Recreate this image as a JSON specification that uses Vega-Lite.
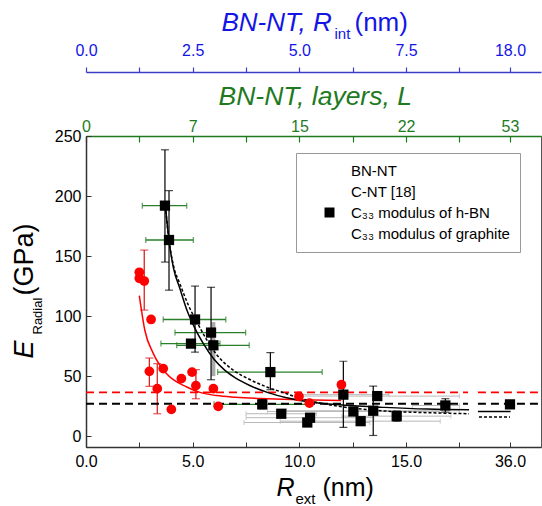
{
 "$schema": "https://vega.github.io/schema/vega-lite/v6.json",
 "width": 455, "height": 311,
 "autosize": "none",
 "padding": {"left": 86, "top": 136, "right": 1, "bottom": 59},
 "background": "white",
 "config": {
   "font": "Liberation Sans",
   "view": {"stroke": "#555", "strokeWidth": 1},
   "axis": {"grid": false, "labelFont": "Liberation Sans", "titleFont": "Liberation Sans", "titleFontWeight": "normal", "labelFlush": false, "labelOverlap": false},
   "legend": {"labelFont": "Liberation Sans", "labelFontSize": 15}
 },
 "datasets": {
   "sq": [
     {"R":3.70,"E":192,"Elo":145,"Ehi":238.5,"Rlo":2.64,"Rhi":4.72},
     {"R":3.89,"E":163.4,"Elo":121.6,"Ehi":204.5,"Rlo":2.80,"Rhi":5.03},
     {"R":5.11,"E":97.2,"Elo":70,"Ehi":125,"Rlo":3.62,"Rhi":6.55},
     {"R":5.86,"E":86.3,"Elo":47,"Ehi":124,"Rlo":4.17,"Rhi":7.48},
     {"R":4.92,"E":77.1,"Rlo":3.51,"Rhi":6.28},
     {"R":5.97,"E":75.7,"Rlo":4.25,"Rhi":7.65,"bandLo":50,"bandHi":95},
     {"R":8.64,"E":53.4,"Elo":38.7,"Ehi":69.6,"Rlo":6.17,"Rhi":11.07},
     {"R":8.26,"E":26.5,"Elo":22.8,"Ehi":30.6,"Rlo":6.0,"Rhi":10.5},
     {"R":9.15,"E":18.7,"gRlo":7.5,"gRhi":10.8},
     {"R":10.37,"E":11.4,"gRlo":7.4,"gRhi":13.3},
     {"R":10.5,"E":15.4,"gRlo":7.5,"gRhi":13.5},
     {"R":12.06,"E":34.6,"Elo":7.3,"Ehi":62.4,"gRlo":9.9,"gRhi":14.2},
     {"R":12.53,"E":20.6,"gRlo":8.5,"gRhi":16.55},
     {"R":12.87,"E":12.5,"gRlo":9.1,"gRhi":16.6},
     {"R":13.46,"E":21.2,"Elo":0.6,"Ehi":41.7,"gRlo":9.4,"gRhi":17.5},
     {"R":13.65,"E":33.4,"gRlo":9.9,"gRhi":17.5},
     {"R":14.56,"E":16.7,"Elo":12.5,"Ehi":21,"gRlo":12.0,"gRhi":17.1},
     {"R":16.84,"E":25.6,"Elo":20,"Ehi":31.2,"gRlo":15.3,"gRhi":17.5},
     {"R":36,"E":26.5}
   ],
   "cnt": [
     {"R":2.50,"E":136.5},
     {"R":2.50,"E":131.5},
     {"R":2.73,"E":129.2,"Elo":105,"Ehi":155},
     {"R":3.05,"E":97.2},
     {"R":2.97,"E":54,"Elo":41.5,"Ehi":65.1},
     {"R":3.62,"E":56.3},
     {"R":3.34,"E":39.6,"Elo":18.7,"Ehi":60.4},
     {"R":4.0,"E":22.3},
     {"R":4.47,"E":47.9},
     {"R":4.97,"E":53.4},
     {"R":5.15,"E":42.1,"Elo":31.2,"Ehi":55.4},
     {"R":5.97,"E":39.6},
     {"R":6.2,"E":24.8},
     {"R":9.98,"E":33.1},
     {"R":10.47,"E":27.5},
     {"R":11.97,"E":42.9}
   ],
   "graphite": [
     {"R":0,"E":36.5,"seg":"a"},{"R":17.9,"E":36.5,"seg":"a"},
     {"R":34.5,"E":36.5,"seg":"b"},{"R":37.45,"E":36.5,"seg":"b"}
   ],
   "hbn": [
     {"R":0,"E":27,"seg":"a"},{"R":17.9,"E":27,"seg":"a"},
     {"R":34.5,"E":27,"seg":"b"},{"R":37.45,"E":27,"seg":"b"}
   ],
   "fitC": [
     {"R":2.5,"E":117},{"R":2.76,"E":88},{"R":3.15,"E":69},{"R":3.78,"E":52},
     {"R":4.72,"E":41},{"R":5.34,"E":36.5},{"R":6.12,"E":33.8},{"R":7.0,"E":32.4},
     {"R":8.47,"E":31.2},{"R":10.03,"E":30.4},{"R":11.96,"E":29.8}
   ],
   "fitBN": [
     {"R":3.72,"E":192,"seg":"a"},{"R":3.89,"E":163,"seg":"a"},{"R":4.1,"E":140,"seg":"a"},
     {"R":4.4,"E":123,"seg":"a"},{"R":4.75,"E":104,"seg":"a"},{"R":5.1,"E":90,"seg":"a"},
     {"R":5.5,"E":77,"seg":"a"},{"R":6.0,"E":64,"seg":"a"},{"R":6.5,"E":55,"seg":"a"},
     {"R":7.0,"E":48.5,"seg":"a"},{"R":7.7,"E":42,"seg":"a"},{"R":8.5,"E":36.5,"seg":"a"},
     {"R":9.4,"E":32,"seg":"a"},{"R":10.5,"E":28.5,"seg":"a"},{"R":12,"E":26,"seg":"a"},
     {"R":14,"E":24,"seg":"a"},{"R":16,"E":22.6,"seg":"a"},{"R":17.95,"E":22,"seg":"a"},
     {"R":34.5,"E":20.6,"seg":"b"},{"R":36.03,"E":20.6,"seg":"b"}
   ],
   "fitBN2": [
     {"R":3.72,"E":192,"seg":"a"},{"R":3.89,"E":163,"seg":"a"},{"R":4.1,"E":142,"seg":"a"},
     {"R":4.4,"E":127,"seg":"a"},{"R":4.8,"E":109,"seg":"a"},{"R":5.2,"E":95,"seg":"a"},
     {"R":5.6,"E":82,"seg":"a"},{"R":6.12,"E":68,"seg":"a"},{"R":6.9,"E":55,"seg":"a"},
     {"R":7.7,"E":47,"seg":"a"},{"R":8.47,"E":41,"seg":"a"},{"R":9.3,"E":36,"seg":"a"},
     {"R":10.03,"E":31.5,"seg":"a"},{"R":11,"E":27.5,"seg":"a"},{"R":12,"E":24.5,"seg":"a"},
     {"R":13,"E":22.5,"seg":"a"},{"R":14,"E":21,"seg":"a"},{"R":16,"E":19.6,"seg":"a"},
     {"R":17.95,"E":18.7,"seg":"a"},
     {"R":34.55,"E":15.9,"seg":"b"},{"R":36.0,"E":15.9,"seg":"b"}
   ],
   "one": [{"R": 0}]
 },
 "resolve": {"scale": {"x": "independent"}, "axis": {"x": "independent"}},
 "layer": [
    {
     "data": {"name": "sq"},
     "mark": {"type": "rule", "color": "#b8b8b8", "strokeWidth": 1},
     "encoding": {
       "x": {"field": "gRlo", "type": "quantitative", "axis": null,
             "scale": {"domain": [0, 18, 34.41, 37.45], "range": [0, 384.1, 390, 455], "nice": false, "zero": false}},
       "x2": {"field": "gRhi"},
       "y": {"field": "E", "type": "quantitative",
             "scale": {"domain": [-9, 250], "nice": false, "zero": false},
             "axis": {"values": [0,25,50,75,100,125,150,175,200,225,250],
                      "labelExpr": "datum.value % 50 == 0 ? format(datum.value, 'd') : ''",
                      "tickSize": -5, "labelPadding": 10, "labelFontSize": 16, "labelColor": "black",
                      "domainColor": "#333", "domainWidth": 1.5, "tickColor": "#333",
                      "title": "E", "titleX": -54, "titleY": 222, "titleAngle": 270, "titleAlign": "left",
                      "titleBaseline": "alphabetic", "titleFontSize": 27, "titleFontStyle": "italic", "titleColor": "black"}}
     }
    },
    {
     "data": {"name": "sq"},
     "transform": [{"fold": ["gRlo", "gRhi"], "as": ["k", "v"]}],
     "mark": {"type": "tick", "orient": "vertical", "color": "#b8b8b8", "size": 5, "thickness": 1},
     "encoding": {
       "x": {"field": "v", "type": "quantitative", "axis": null,
             "scale": {"domain": [0, 18, 34.41, 37.45], "range": [0, 384.1, 390, 455], "nice": false, "zero": false}},
       "y": {"field": "E", "type": "quantitative", "scale": {"domain": [-9, 250], "nice": false, "zero": false}}
     }
    },
    {
     "data": {"name": "sq"},
     "mark": {"type": "rule", "color": "#aaaaaa", "strokeWidth": 4},
     "encoding": {
       "x": {"field": "R", "type": "quantitative", "axis": null,
             "scale": {"domain": [0, 18, 34.41, 37.45], "range": [0, 384.1, 390, 455], "nice": false, "zero": false}},
       "y": {"field": "bandLo", "type": "quantitative", "scale": {"domain": [-9, 250], "nice": false, "zero": false}},
       "y2": {"field": "bandHi"}
     }
    },
    {
     "data": {"name": "sq"},
     "mark": {"type": "rule", "color": "#2a7f2a", "strokeWidth": 1.3},
     "encoding": {
       "x": {"field": "Rlo", "type": "quantitative", "axis": null,
             "scale": {"domain": [0, 18, 34.41, 37.45], "range": [0, 384.1, 390, 455], "nice": false, "zero": false}},
       "x2": {"field": "Rhi"},
       "y": {"field": "E", "type": "quantitative", "scale": {"domain": [-9, 250], "nice": false, "zero": false}}
     }
    },
    {
     "data": {"name": "sq"},
     "transform": [{"fold": ["Rlo", "Rhi"], "as": ["k", "v"]}],
     "mark": {"type": "tick", "orient": "vertical", "color": "#2a7f2a", "size": 6, "thickness": 1.3},
     "encoding": {
       "x": {"field": "v", "type": "quantitative", "axis": null,
             "scale": {"domain": [0, 18, 34.41, 37.45], "range": [0, 384.1, 390, 455], "nice": false, "zero": false}},
       "y": {"field": "E", "type": "quantitative", "scale": {"domain": [-9, 250], "nice": false, "zero": false}}
     }
    },
    {
     "data": {"name": "sq"},
     "mark": {"type": "rule", "color": "black", "strokeWidth": 1.2},
     "encoding": {
       "x": {"field": "R", "type": "quantitative", "axis": null,
             "scale": {"domain": [0, 18, 34.41, 37.45], "range": [0, 384.1, 390, 455], "nice": false, "zero": false}},
       "y": {"field": "Elo", "type": "quantitative", "scale": {"domain": [-9, 250], "nice": false, "zero": false}},
       "y2": {"field": "Ehi"}
     }
    },
    {
     "data": {"name": "sq"},
     "transform": [{"fold": ["Elo", "Ehi"], "as": ["k", "v"]}],
     "mark": {"type": "tick", "orient": "horizontal", "color": "black", "size": 8, "thickness": 1.2},
     "encoding": {
       "x": {"field": "R", "type": "quantitative", "axis": null,
             "scale": {"domain": [0, 18, 34.41, 37.45], "range": [0, 384.1, 390, 455], "nice": false, "zero": false}},
       "y": {"field": "v", "type": "quantitative", "scale": {"domain": [-9, 250], "nice": false, "zero": false}}
     }
    },
    {
     "data": {"name": "cnt"},
     "mark": {"type": "rule", "color": "#dd2222", "strokeWidth": 1.3},
     "encoding": {
       "x": {"field": "R", "type": "quantitative", "axis": null,
             "scale": {"domain": [0, 18, 34.41, 37.45], "range": [0, 384.1, 390, 455], "nice": false, "zero": false}},
       "y": {"field": "Elo", "type": "quantitative", "scale": {"domain": [-9, 250], "nice": false, "zero": false}},
       "y2": {"field": "Ehi"}
     }
    },
    {
     "data": {"name": "cnt"},
     "transform": [{"fold": ["Elo", "Ehi"], "as": ["k", "v"]}],
     "mark": {"type": "tick", "orient": "horizontal", "color": "#dd2222", "size": 8, "thickness": 1.3},
     "encoding": {
       "x": {"field": "R", "type": "quantitative", "axis": null,
             "scale": {"domain": [0, 18, 34.41, 37.45], "range": [0, 384.1, 390, 455], "nice": false, "zero": false}},
       "y": {"field": "v", "type": "quantitative", "scale": {"domain": [-9, 250], "nice": false, "zero": false}}
     }
    },
    {
     "data": {"name": "graphite"},
     "mark": {"type": "line", "color": "#ff0000", "strokeWidth": 1.8, "strokeDash": [8, 5]},
     "encoding": {
       "x": {"field": "R", "type": "quantitative", "axis": null,
             "scale": {"domain": [0, 18, 34.41, 37.45], "range": [0, 384.1, 390, 455], "nice": false, "zero": false}},
       "y": {"field": "E", "type": "quantitative", "scale": {"domain": [-9, 250], "nice": false, "zero": false}},
       "detail": {"field": "seg"}
     }
    },
    {
     "data": {"name": "hbn"},
     "mark": {"type": "line", "color": "black", "strokeWidth": 1.8, "strokeDash": [8, 5]},
     "encoding": {
       "x": {"field": "R", "type": "quantitative", "axis": null,
             "scale": {"domain": [0, 18, 34.41, 37.45], "range": [0, 384.1, 390, 455], "nice": false, "zero": false}},
       "y": {"field": "E", "type": "quantitative", "scale": {"domain": [-9, 250], "nice": false, "zero": false}},
       "detail": {"field": "seg"}
     }
    },
    {
     "data": {"name": "fitC"},
     "mark": {"type": "line", "color": "#ff0000", "strokeWidth": 1.5, "interpolate": "monotone"},
     "encoding": {
       "x": {"field": "R", "type": "quantitative", "axis": null,
             "scale": {"domain": [0, 18, 34.41, 37.45], "range": [0, 384.1, 390, 455], "nice": false, "zero": false}},
       "y": {"field": "E", "type": "quantitative", "scale": {"domain": [-9, 250], "nice": false, "zero": false}}
     }
    },
    {
     "data": {"name": "fitBN"},
     "mark": {"type": "line", "color": "black", "strokeWidth": 1.5, "interpolate": "monotone"},
     "encoding": {
       "x": {"field": "R", "type": "quantitative", "axis": null,
             "scale": {"domain": [0, 18, 34.41, 37.45], "range": [0, 384.1, 390, 455], "nice": false, "zero": false}},
       "y": {"field": "E", "type": "quantitative", "scale": {"domain": [-9, 250], "nice": false, "zero": false}},
       "detail": {"field": "seg"}
     }
    },
    {
     "data": {"name": "fitBN2"},
     "mark": {"type": "line", "color": "black", "strokeWidth": 1.5, "strokeDash": [3, 2], "interpolate": "monotone"},
     "encoding": {
       "x": {"field": "R", "type": "quantitative", "axis": null,
             "scale": {"domain": [0, 18, 34.41, 37.45], "range": [0, 384.1, 390, 455], "nice": false, "zero": false}},
       "y": {"field": "E", "type": "quantitative", "scale": {"domain": [-9, 250], "nice": false, "zero": false}},
       "detail": {"field": "seg"}
     }
    },
    {
     "data": {"name": "cnt"},
     "mark": {"type": "circle", "color": "#ff0000", "size": 95, "opacity": 1},
     "encoding": {
       "x": {"field": "R", "type": "quantitative", "axis": null,
             "scale": {"domain": [0, 18, 34.41, 37.45], "range": [0, 384.1, 390, 455], "nice": false, "zero": false}},
       "y": {"field": "E", "type": "quantitative", "scale": {"domain": [-9, 250], "nice": false, "zero": false}}
     }
    },
    {
     "data": {"name": "sq"},
     "mark": {"type": "square", "color": "black", "size": 105, "opacity": 1},
     "encoding": {
       "x": {"field": "R", "type": "quantitative", "axis": null,
             "scale": {"domain": [0, 18, 34.41, 37.45], "range": [0, 384.1, 390, 455], "nice": false, "zero": false}},
       "y": {"field": "E", "type": "quantitative", "scale": {"domain": [-9, 250], "nice": false, "zero": false}}
     }
    },
    {
     "data": {"name": "one"},
     "mark": {"type": "rule", "opacity": 0},
     "encoding": {"x": {"field": "R", "type": "quantitative",
       "scale": {"domain": [0, 18, 34.41, 37.45], "range": [0, 384.1, 390, 455], "nice": false, "zero": false},
       "axis": {"orient": "bottom", "values": [0,2.5,5,7.5,10,12.5,15,17.5,36],
                "labelExpr": "(datum.value % 5 == 0 || datum.value == 36) ? format(datum.value, '.1f') : ''",
                "tickSize": -5, "tickColor": "#333", "tickWidth": 1, "domainColor": "#333", "domainWidth": 1.5,
                "labelFontSize": 16, "labelColor": "black", "labelPadding": 11, "labelBaseline": "top",
                "title": "R", "titleX": 190, "titleY": 48, "titleAlign": "left", "titleBaseline": "alphabetic",
                "titleFontSize": 25, "titleFontStyle": "italic", "titleColor": "black"}}}
    },
    {
     "data": {"name": "one"},
     "mark": {"type": "rule", "opacity": 0},
     "encoding": {"x": {"field": "R", "type": "quantitative",
       "scale": {"domain": [0, 18, 34.41, 37.45], "range": [0, 384.1, 390, 455], "nice": false, "zero": false},
       "axis": {"orient": "top", "values": [0,2.5,5,7.5,10,12.5,15,17.5,36],
         "labelExpr": "datum.value == 0 ? '0' : datum.value == 5 ? '7' : datum.value == 10 ? '15' : datum.value == 15 ? '22' : datum.value == 36 ? '53' : ''",
         "tickSize": -6, "tickColor": "#1f7a1f", "tickWidth": 1.2, "domainColor": "#1f7a1f", "domainWidth": 1.5,
         "labelColor": "#1f7a1f", "labelFontSize": 16, "labelPadding": 11, "labelBaseline": "alphabetic",
         "title": "BN-NT, layers, L", "titleX": 132, "titleY": -32, "titleAlign": "left", "titleBaseline": "alphabetic",
         "titleFontSize": 26.5, "titleFontStyle": "italic", "titleColor": "#1f7a1f"}}}
    },
    {
     "data": {"name": "one"},
     "mark": {"type": "rule", "opacity": 0},
     "encoding": {"x": {"field": "R", "type": "quantitative",
       "scale": {"domain": [0, 18, 34.41, 37.45], "range": [0, 384.1, 390, 455], "nice": false, "zero": false},
       "axis": {"orient": "top", "offset": 64, "values": [0,2.5,5,7.5,10,12.5,15,17.5,36],
         "labelExpr": "datum.value == 36 ? '18.0' : (datum.value % 5 == 0 ? format(datum.value / 2, '.1f') : '')",
         "tickSize": 5, "tickColor": "#3c3cc8", "tickWidth": 1.2, "domainColor": "#3c3cc8", "domainWidth": 1.5,
         "labelColor": "#1414e6", "labelFontSize": 16, "labelPadding": 12, "labelBaseline": "alphabetic",
         "title": "BN-NT, R", "titleX": 135, "titleY": -42, "titleAlign": "left", "titleBaseline": "alphabetic",
         "titleFontSize": 26, "titleFontStyle": "italic", "titleColor": "#1414e6"}}}
    },
    {
     "data": {"name": "one"},
     "mark": {"type": "rule", "opacity": 0},
     "encoding": {"x": {"field": "R", "type": "quantitative",
       "scale": {"domain": [0, 18, 34.41, 37.45], "range": [0, 384.1, 390, 455], "nice": false, "zero": false},
       "axis": {"orient": "bottom", "domain": false, "ticks": false, "labels": false,
         "title": "ext", "titleX": 209, "titleY": 56, "titleAlign": "left", "titleBaseline": "alphabetic",
         "titleFontSize": 15, "titleColor": "black"}}}
    },
    {
     "data": {"name": "one"},
     "mark": {"type": "rule", "opacity": 0},
     "encoding": {"x": {"field": "R", "type": "quantitative",
       "scale": {"domain": [0, 18, 34.41, 37.45], "range": [0, 384.1, 390, 455], "nice": false, "zero": false},
       "axis": {"orient": "bottom", "domain": false, "ticks": false, "labels": false,
         "title": "(nm)", "titleX": 236, "titleY": 48, "titleAlign": "left", "titleBaseline": "alphabetic",
         "titleFontSize": 25, "titleColor": "black"}}}
    },
    {
     "data": {"name": "one"},
     "mark": {"type": "rule", "opacity": 0},
     "encoding": {"x": {"field": "R", "type": "quantitative",
       "scale": {"domain": [0, 18, 34.41, 37.45], "range": [0, 384.1, 390, 455], "nice": false, "zero": false},
       "axis": {"orient": "bottom", "domain": false, "ticks": false, "labels": false,
         "title": "Radial", "titleX": -45, "titleY": -113, "titleAngle": 270, "titleAlign": "left", "titleBaseline": "alphabetic",
         "titleFontSize": 13, "titleColor": "black"}}}
    },
    {
     "data": {"name": "one"},
     "mark": {"type": "rule", "opacity": 0},
     "encoding": {"x": {"field": "R", "type": "quantitative",
       "scale": {"domain": [0, 18, 34.41, 37.45], "range": [0, 384.1, 390, 455], "nice": false, "zero": false},
       "axis": {"orient": "bottom", "domain": false, "ticks": false, "labels": false,
         "title": "(GPa)", "titleX": -54, "titleY": -152, "titleAngle": 270, "titleAlign": "left", "titleBaseline": "alphabetic",
         "titleFontSize": 27, "titleColor": "black"}}}
    },
    {
     "data": {"name": "one"},
     "mark": {"type": "rule", "opacity": 0},
     "encoding": {"x": {"field": "R", "type": "quantitative",
       "scale": {"domain": [0, 18, 34.41, 37.45], "range": [0, 384.1, 390, 455], "nice": false, "zero": false},
       "axis": {"orient": "bottom", "domain": false, "ticks": false, "labels": false,
         "title": "int", "titleX": 248, "titleY": -409, "titleAlign": "left", "titleBaseline": "alphabetic",
         "titleFontSize": 15, "titleColor": "#1414e6"}}}
    },
    {
     "data": {"name": "one"},
     "mark": {"type": "rule", "opacity": 0},
     "encoding": {"x": {"field": "R", "type": "quantitative",
       "scale": {"domain": [0, 18, 34.41, 37.45], "range": [0, 384.1, 390, 455], "nice": false, "zero": false},
       "axis": {"orient": "bottom", "domain": false, "ticks": false, "labels": false,
         "title": "(nm)", "titleX": 268, "titleY": -417, "titleAlign": "left", "titleBaseline": "alphabetic",
         "titleFontSize": 26, "titleColor": "#1414e6"}}}
    },
    {
     "mark": {"type": "rule", "color": "white", "strokeWidth": 4},
     "encoding": {"x": {"datum": 17.9, "type": "quantitative", "axis": null,
       "scale": {"domain": [0, 18, 34.41, 37.45], "range": [0, 384.1, 390, 455], "nice": false, "zero": false}},
       "x2": {"datum": 34.45}, "y": {"datum": -9, "type": "quantitative", "scale": {"domain": [-9, 250], "nice": false, "zero": false}}}
    },
    {
     "mark": {"type": "rule", "color": "white", "strokeWidth": 4},
     "encoding": {"x": {"datum": 17.9, "type": "quantitative", "axis": null,
       "scale": {"domain": [0, 18, 34.41, 37.45], "range": [0, 384.1, 390, 455], "nice": false, "zero": false}},
       "x2": {"datum": 34.45}, "y": {"datum": 250, "type": "quantitative", "scale": {"domain": [-9, 250], "nice": false, "zero": false}}}
    },
    {
     "mark": {"type": "rule", "color": "white", "strokeWidth": 4},
     "encoding": {"x": {"datum": 17.9, "type": "quantitative", "axis": null,
       "scale": {"domain": [0, 18, 34.41, 37.45], "range": [0, 384.1, 390, 455], "nice": false, "zero": false}},
       "x2": {"datum": 34.45}, "y": {"datum": 303.3, "type": "quantitative", "scale": {"domain": [-9, 250], "nice": false, "zero": false}}}
    },
    {
     "mark": {"type": "text", "text": "//", "fontSize": 15, "color": "#333"},
     "encoding": {"x": {"datum": 26, "type": "quantitative", "axis": null,
       "scale": {"domain": [0, 18, 34.41, 37.45], "range": [0, 384.1, 390, 455], "nice": false, "zero": false}},
       "y": {"datum": -9, "type": "quantitative", "scale": {"domain": [-9, 250], "nice": false, "zero": false}}}
    },
    {
     "mark": {"type": "text", "text": "//", "fontSize": 15, "color": "#1f7a1f"},
     "encoding": {"x": {"datum": 26, "type": "quantitative", "axis": null,
       "scale": {"domain": [0, 18, 34.41, 37.45], "range": [0, 384.1, 390, 455], "nice": false, "zero": false}},
       "y": {"datum": 250, "type": "quantitative", "scale": {"domain": [-9, 250], "nice": false, "zero": false}}}
    },
    {
     "mark": {"type": "text", "text": "//", "fontSize": 15, "color": "#3c3cc8"},
     "encoding": {"x": {"datum": 26, "type": "quantitative", "axis": null,
       "scale": {"domain": [0, 18, 34.41, 37.45], "range": [0, 384.1, 390, 455], "nice": false, "zero": false}},
       "y": {"datum": 303.3, "type": "quantitative", "scale": {"domain": [-9, 250], "nice": false, "zero": false}}}
    },
    {
     "data": {"values": [{"series": "BN-NT"}, {"series": "C-NT [18]"}, {"series": "C₃₃ modulus of h-BN"}, {"series": "C₃₃ modulus of graphite"}]},
     "mark": {"type": "point", "filled": true, "opacity": 0, "color": "black"},
     "encoding": {
       "shape": {"field": "series", "type": "nominal",
         "scale": {"domain": ["BN-NT", "C-NT [18]", "C₃₃ modulus of h-BN", "C₃₃ modulus of graphite"],
                   "range": ["M0,0", "M0,0", "square", "M0,0"]},
         "legend": {"orient": "none", "legendX": 210, "legendY": 17, "title": null,
           "strokeColor": "#999", "fillColor": "white", "padding": 10, "rowPadding": 5,
           "symbolSize": 100, "symbolOffset": 16, "labelOffset": 14, "symbolOpacity": 1,
           "symbolFillColor": "black", "symbolStrokeColor": "black", "symbolStrokeWidth": 0,
           "labelFontSize": 15, "labelColor": "black", "labelFont": "Liberation Sans", "labelLimit": 300}}
     }
    }
 ]
}
